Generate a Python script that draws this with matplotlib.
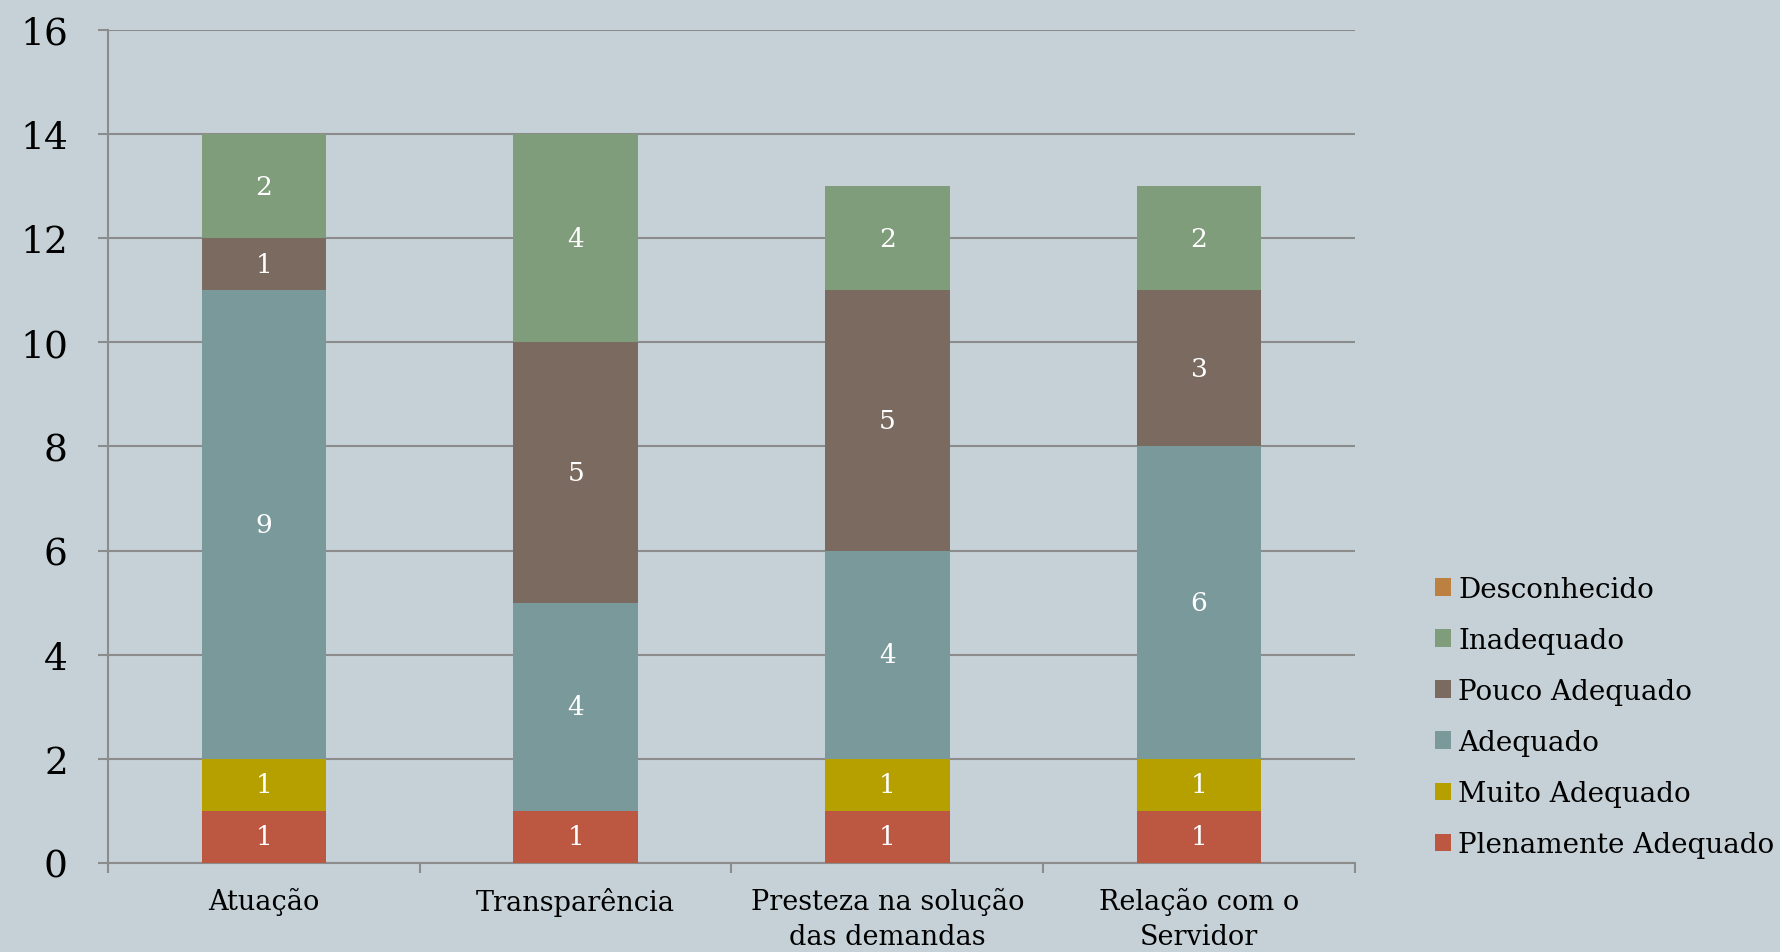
import matplotlib
matplotlib.use("Agg")
import matplotlib.pyplot as plt
import numpy as np

categories = ["Atuação", "Transparência", "Presteza na solução\ndas demandas", "Relação com o\nServidor"]
series_names = ["Plenamente Adequado", "Muito Adequado", "Adequado", "Pouco Adequado", "Inadequado", "Desconhecido"]
plenamente = [1, 1, 1, 1]
muito = [1, 0, 1, 1]
adequado = [9, 4, 4, 6]
pouco = [1, 5, 5, 3]
inadequado = [2, 4, 2, 2]
desconhecido = [0, 0, 0, 0]
colors = ["#BC5842", "#B5A000", "#7A999B", "#7A6A5F", "#7F9C7B", "#BC8040"]
yticks = [0, 2, 4, 6, 8, 10, 12, 14, 16]

series = [plenamente, muito, adequado, pouco, inadequado, desconhecido]

bg = "#C5D1D7"
plt.rcParams['font.family'] = ['DejaVu Serif']
fig = plt.figure(figsize=(17.8, 9.53), dpi=100, facecolor=bg)
ax = fig.add_axes([0.0607, 0.0934, 0.7005, 0.8741], facecolor=bg)

x = np.arange(len(categories))
bottom = np.zeros(len(categories))
handles = []
for name, vals, c in zip(series_names, series, colors):
    vals = np.array(vals, dtype=float)
    bars = ax.bar(x, vals, width=0.4, bottom=bottom, color=c, label=name, zorder=3)
    handles.append(bars)
    for xi, v, b in zip(x, vals, bottom):
        if v > 0:
            ax.text(xi, b + v / 2, f"{int(v)}", ha="center", va="center",
                    color="white", fontsize=19, zorder=4)
    bottom += vals

ax.set_xlim(-0.5, len(categories) - 0.5)
ax.set_ylim(0, 16)
ax.set_yticks(yticks)
ax.set_yticklabels([str(t) for t in yticks], fontsize=27)
ax.yaxis.grid(True, color="#8C8C8C", linewidth=1.5, zorder=0)
ax.set_axisbelow(True)

ax.set_xticks(x)
ax.set_xticklabels(categories, fontsize=19.5, linespacing=1.4)
ax.set_xticks(np.arange(-0.5, len(categories)), minor=True)
ax.tick_params(axis="x", which="major", length=0, pad=17)
ax.tick_params(axis="x", which="minor", length=7, width=1.5, color="#8C8C8C")
ax.tick_params(axis="y", length=7, width=1.5, color="#8C8C8C", pad=22)

for s in ["top", "right"]:
    ax.spines[s].set_visible(False)
for s in ["left", "bottom"]:
    ax.spines[s].set_color("#8C8C8C")
    ax.spines[s].set_linewidth(1.5)

leg = fig.legend(handles[::-1], series_names[::-1], loc="lower left",
                 bbox_to_anchor=(0.792, 0.072), frameon=False, fontsize=20,
                 handlelength=0.6, handleheight=0.6, handletextpad=0.25,
                 labelspacing=0.87)

fig.savefig("out.png", dpi=100, facecolor=bg)
